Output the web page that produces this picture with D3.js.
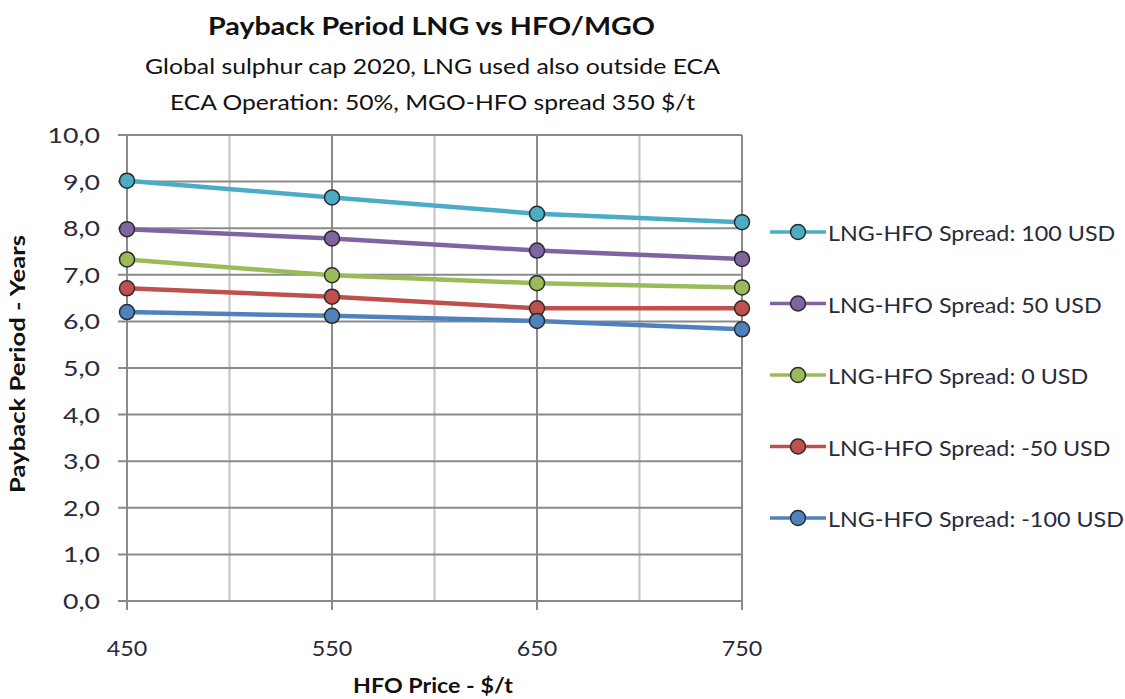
<!DOCTYPE html>
<html><head><meta charset="utf-8">
<script src="https://cdn.jsdelivr.net/npm/d3@7"></script>
<style>body{margin:0;background:#fff}svg{display:block}</style>
</head><body>
<svg id="c" width="1125" height="699"></svg>
<script>
const hfoPrices = [450, 550, 650, 750];
const seriesNames = ["LNG-HFO Spread: 100 USD","LNG-HFO Spread: 50 USD","LNG-HFO Spread: 0 USD","LNG-HFO Spread: -50 USD","LNG-HFO Spread: -100 USD"];
const spread100 = [9.02, 8.66, 8.31, 8.13];
const spread50 = [7.98, 7.78, 7.52, 7.34];
const spread0 = [7.33, 6.99, 6.82, 6.73];
const spreadM50 = [6.71, 6.53, 6.28, 6.28];
const spreadM100 = [6.20, 6.12, 6.01, 5.83];
const seriesColors = ["#4BACC6","#8064A2","#9BBB59","#C0504D","#4F81BD"];
const yTicks = [0,1,2,3,4,5,6,7,8,9,10];
const xGrid = [450,500,550,600,650,700,750];
const xLabels = [450,550,650,750];

const allSeries = [spread100, spread50, spread0, spreadM50, spreadM100];
const font = "Lato, 'Open Sans', sans-serif";
const svg = d3.select("#c");
const x = d3.scaleLinear().domain([450,750]).range([127,742]);
const y = d3.scaleLinear().domain([0,10]).range([601,135]);

function stretch(sel, factor){
  sel.each(function(){
    const n = this.getComputedTextLength();
    d3.select(this).attr("textLength", n*factor).attr("lengthAdjust","spacingAndGlyphs");
  });
}
function fit(sel, len){
  sel.attr("textLength", len).attr("lengthAdjust","spacingAndGlyphs");
}

// grid
svg.append("g").selectAll("line").data(xGrid).join("line")
  .attr("x1",d=>x(d)).attr("x2",d=>x(d)).attr("y1",y(10)).attr("y2",y(0))
  .attr("stroke",d=>xLabels.includes(d)?"#8a8a8a":"#c4c4c4").attr("stroke-width",2);
svg.append("g").selectAll("line").data(yTicks).join("line")
  .attr("x1",118).attr("x2",x(750)).attr("y1",d=>y(d)).attr("y2",d=>y(d))
  .attr("stroke","#8a8a8a").attr("stroke-width",2);
svg.append("g").selectAll("line").data(xLabels).join("line")
  .attr("x1",d=>x(d)).attr("x2",d=>x(d)).attr("y1",y(0)).attr("y2",y(0)+9)
  .attr("stroke","#8a8a8a").attr("stroke-width",2);

// tick labels
const yt = svg.append("g").selectAll("text").data(yTicks).join("text")
  .attr("x",100).attr("y",d=>y(d)+8).attr("text-anchor","end")
  .attr("font-family",font).attr("font-size",21).attr("fill","#2a2a3a")
  .text(d=>d3.format(".1f")(d).replace(".",","));
stretch(yt, 1.27);
const xt = svg.append("g").selectAll("text").data(xLabels).join("text")
  .attr("x",d=>x(d)).attr("y",656).attr("text-anchor","middle")
  .attr("font-family",font).attr("font-size",22).attr("fill","#2a2a3a").text(d=>d);
stretch(xt, 1.06);

// lines
const line = d3.line().x((d,i)=>x(hfoPrices[i])).y(d=>y(d));
allSeries.forEach((s,k)=>{
  svg.append("path").attr("d",line(s)).attr("fill","none")
    .attr("stroke",seriesColors[k]).attr("stroke-width",4.5).attr("stroke-linejoin","round");
});
allSeries.forEach((s,k)=>{
  svg.append("g").selectAll("circle").data(s).join("circle")
    .attr("cx",(d,i)=>x(hfoPrices[i])).attr("cy",d=>y(d)).attr("r",7.5)
    .attr("fill",seriesColors[k]).attr("stroke","#2b2b2b").attr("stroke-width",1.5);
});

// legend
const lg = svg.append("g").selectAll("g").data(seriesNames).join("g")
  .attr("transform",(d,i)=>`translate(0,${232+i*71.5})`);
lg.append("line").attr("x1",770).attr("x2",826).attr("y1",0).attr("y2",0)
  .attr("stroke",(d,i)=>seriesColors[i]).attr("stroke-width",3.5);
lg.append("circle").attr("cx",798).attr("cy",0).attr("r",7.5)
  .attr("fill",(d,i)=>seriesColors[i]).attr("stroke","#2b2b2b").attr("stroke-width",1.5);
const lt = lg.append("text").attr("x",828).attr("y",9)
  .attr("font-family",font).attr("font-size",22).attr("fill","#2a2a3a").text(d=>d);
stretch(lt, 1.06);

// titles
fit(svg.append("text").attr("x",208).attr("y",35)
  .attr("font-family",font).attr("font-weight","bold").attr("font-size",25).attr("fill","#111")
  .text("Payback Period LNG vs HFO/MGO"), 447);
fit(svg.append("text").attr("x",145).attr("y",74)
  .attr("font-family",font).attr("font-size",22).attr("fill","#111")
  .text("Global sulphur cap 2020, LNG used also outside ECA"), 575);
fit(svg.append("text").attr("x",170).attr("y",110)
  .attr("font-family",font).attr("font-size",22).attr("fill","#111")
  .text("ECA Operation: 50%, MGO-HFO  spread 350 $/t"), 525);
fit(svg.append("text").attr("x",353).attr("y",693)
  .attr("font-family",font).attr("font-weight","bold").attr("font-size",21).attr("fill","#111")
  .text("HFO Price - $/t"), 160);
fit(svg.append("text").attr("transform","translate(25,493) rotate(-90)")
  .attr("font-family",font).attr("font-weight","bold").attr("font-size",20).attr("fill","#111")
  .text("Payback Period  - Years"), 258);
</script>
</body></html>
